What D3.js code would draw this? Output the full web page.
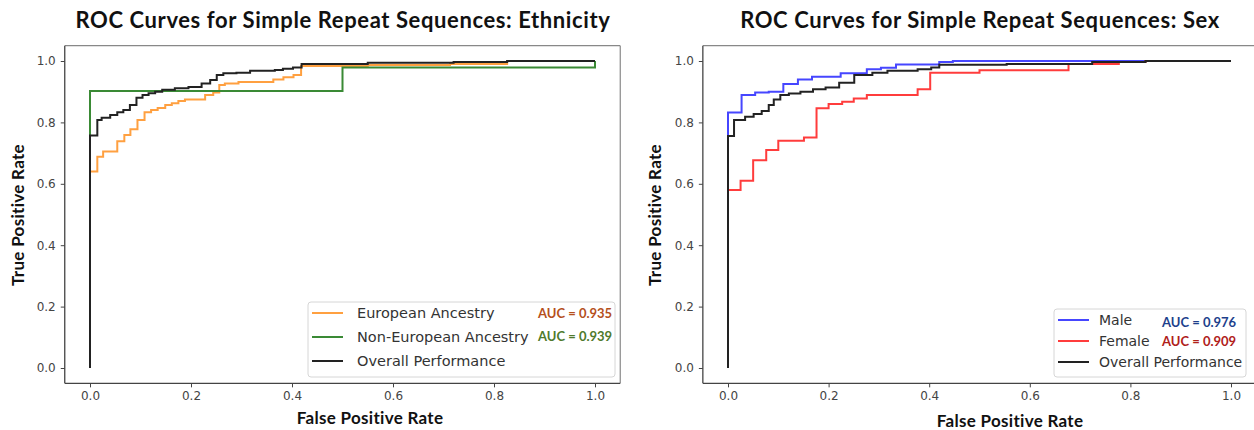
<!DOCTYPE html>
<html><head><meta charset="utf-8">
<script src="https://cdn.jsdelivr.net/npm/d3@7"></script>
<style>body{margin:0;background:#fff}svg{display:block}</style>
</head><body>
<svg id="c" width="1254" height="430"></svg>
<script>
const tickValues = [0, 0.2, 0.4, 0.6, 0.8, 1.0];
const tickLabels = ["0.0", "0.2", "0.4", "0.6", "0.8", "1.0"];

// Left panel: Ethnicity
const europeanAncestry = [[0,0],[0,0.64],[0.0145,0.688],[0.026,0.705],[0.054,0.739],[0.068,0.759],[0.08,0.778],[0.094,0.808],[0.108,0.833],[0.121,0.84],[0.134,0.847],[0.149,0.857],[0.162,0.862],[0.175,0.87],[0.188,0.875],[0.228,0.889],[0.244,0.897],[0.256,0.922],[0.267,0.927],[0.294,0.932],[0.363,0.94],[0.383,0.947],[0.403,0.954],[0.418,0.984],[0.55,0.987],[0.713,0.99],[0.826,1.0],[1,1]];
const nonEuropeanAncestry = [[0,0],[0,0.902],[0.5,0.979],[1,1]];
const overallEthnicity = [[0,0],[0,0.757],[0.0145,0.808],[0.023,0.815],[0.04,0.824],[0.054,0.833],[0.066,0.84],[0.079,0.857],[0.092,0.88],[0.104,0.889],[0.116,0.895],[0.129,0.9],[0.143,0.906],[0.168,0.911],[0.195,0.915],[0.221,0.927],[0.238,0.938],[0.251,0.954],[0.264,0.96],[0.29,0.962],[0.317,0.968],[0.366,0.971],[0.382,0.975],[0.402,0.979],[0.419,0.99],[0.55,0.994],[0.72,0.997],[0.826,1.0],[1,1]];

// Right panel: Sex
const male = [[0,0],[0,0.832],[0.027,0.889],[0.054,0.897],[0.081,0.9],[0.11,0.925],[0.139,0.94],[0.167,0.949],[0.224,0.96],[0.276,0.973],[0.304,0.978],[0.334,0.989],[0.42,0.997],[0.447,1],[1,1]];
const female = [[0,0],[0,0.58],[0.025,0.61],[0.05,0.677],[0.076,0.71],[0.1,0.74],[0.151,0.751],[0.176,0.846],[0.2,0.86],[0.227,0.867],[0.25,0.878],[0.276,0.889],[0.377,0.908],[0.402,0.962],[0.5,0.97],[0.677,0.99],[0.777,0.997],[0.83,1],[1,1]];
const overallSex = [[0,0],[0,0.756],[0.012,0.808],[0.034,0.818],[0.051,0.827],[0.067,0.837],[0.081,0.857],[0.091,0.875],[0.104,0.889],[0.121,0.894],[0.144,0.9],[0.169,0.908],[0.194,0.914],[0.221,0.929],[0.251,0.954],[0.287,0.962],[0.317,0.968],[0.377,0.973],[0.404,0.979],[0.42,0.988],[0.554,0.99],[0.724,0.997],[0.83,1],[1,1]];

const ethnicityLabels = ["European Ancestry", "Non-European Ancestry", "Overall Performance"];
const ethnicityAUC = ["AUC = 0.935", "AUC = 0.939", null];
const sexLabels = ["Male", "Female", "Overall Performance"];
const sexAUC = ["AUC = 0.976", "AUC = 0.909", null];

const svg = d3.select("#c");

function panel(cfg) {
  const x = d3.scaleLinear().domain([-0.05, 1.05]).range([cfg.x0, cfg.x1]);
  const y = d3.scaleLinear().domain([-0.05, 1.05]).range([383.35, 45.65]);
  const g = svg.append("g");
  const [L, R] = x.range(); const [B, T] = y.range();
  g.append("line").attr("x1", L).attr("x2", R).attr("y1", T).attr("y2", T).attr("stroke", "#888").attr("stroke-width", 1.2);
  g.append("line").attr("x1", R).attr("x2", R).attr("y1", T).attr("y2", B).attr("stroke", "#888").attr("stroke-width", 1.2);
  const xa = g.append("g").attr("transform", `translate(0,${B})`)
    .call(d3.axisBottom(x).tickValues(tickValues).tickFormat((d, i) => tickLabels[i]).tickSize(4).tickPadding(4));
  const ya = g.append("g").attr("transform", `translate(${L},0)`)
    .call(d3.axisLeft(y).tickValues(tickValues).tickFormat((d, i) => tickLabels[i]).tickSize(4).tickPadding(5));
  [xa, ya].forEach(a => {
    a.select(".domain").attr("stroke", "#444").attr("stroke-width", 1.3);
    a.selectAll(".tick line").attr("stroke", "#444");
    a.selectAll(".tick text").attr("fill", "#444").style("font-family", "DejaVu Sans").style("font-size", "12px");
  });
  xa.select(".domain").attr("d", `M${L},0H${R}`);
  ya.select(".domain").attr("d", `M0,${B}V${T}`);

  const line = d3.line().x(d => x(d[0])).y(d => y(d[1])).curve(d3.curveStepAfter);
  cfg.series.forEach(s => {
    g.append("path").datum(s.data).attr("d", line).attr("fill", "none")
      .attr("stroke", s.color).attr("stroke-width", 2).attr("stroke-linejoin", "miter");
  });

  g.append("text").attr("x", cfg.titleX).attr("y", 28).attr("text-anchor", "middle")
    .style("font-family", "Lato").style("font-weight", "bold").style("font-size", "22px").style("letter-spacing", "0.6px")
    .attr("fill", "#111").text(cfg.title);
  g.append("text").attr("x", cfg.xlabX).attr("y", cfg.xlabY).attr("text-anchor", "middle")
    .style("font-family", "Lato").style("font-weight", "bold").style("font-size", "17px").style("letter-spacing", "0.3px")
    .attr("fill", "#111").text("False Positive Rate");
  g.append("text").attr("transform", `translate(${cfg.ylabX},215) rotate(-90)`).attr("text-anchor", "middle")
    .style("font-family", "Lato").style("font-weight", "bold").style("font-size", "17px").style("letter-spacing", "0.3px")
    .attr("fill", "#111").text("True Positive Rate");

  const lg = cfg.legend;
  g.append("rect").attr("x", lg.x).attr("y", lg.y).attr("width", lg.w).attr("height", lg.h).attr("rx", 3)
    .attr("fill", "#fff").attr("fill-opacity", 0.85).attr("stroke", "#d6d6d6");
  cfg.series.forEach((s, i) => {
    const yy = lg.rowY[i];
    g.append("line").attr("x1", lg.x + 4).attr("x2", lg.x + 35).attr("y1", yy).attr("y2", yy).attr("stroke", s.color).attr("stroke-width", 2);
    g.append("text").attr("x", lg.x + lg.tx).attr("y", yy).attr("dy", "0.35em")
      .style("font-family", "DejaVu Sans").style("font-size", lg.fs).attr("fill", "#333").text(lg.labels[i]);
    if (lg.auc[i]) {
      g.append("text").attr("x", lg.aucX).attr("y", lg.aucY[i]).attr("dy", "0.35em")
        .style("font-family", "Lato").style("font-weight", "bold").style("font-size", "13px").attr("fill", lg.aucColors[i]).text(lg.auc[i]);
    }
  });
}

panel({
  x0: 64.75, x1: 620.25, title: "ROC Curves for Simple Repeat Sequences: Ethnicity", titleX: 343,
  xlabX: 370, xlabY: 424, ylabX: 24,
  series: [
    {data: europeanAncestry, color: "#ffa040"},
    {data: nonEuropeanAncestry, color: "#3a8a35"},
    {data: overallEthnicity, color: "#222"}
  ],
  legend: {x: 308, y: 302, w: 307, h: 75, rowY: [313, 337, 361], labels: ethnicityLabels, fs: "14.5px", tx: 49,
    auc: ethnicityAUC, aucX: 538, aucY: [313, 336], aucColors: ["#b5501c", "#4f7a2c"]}
});

panel({
  x0: 702.85, x1: 1256.15, title: "ROC Curves for Simple Repeat Sequences: Sex", titleX: 980,
  xlabX: 1010, xlabY: 427, ylabX: 661,
  series: [
    {data: male, color: "#4646ff"},
    {data: female, color: "#ff3c3c"},
    {data: overallSex, color: "#222"}
  ],
  legend: {x: 1054, y: 309, w: 192, h: 68, rowY: [320, 341, 362], labels: sexLabels, fs: "14px", tx: 45,
    auc: sexAUC, aucX: 1162, aucY: [322, 341], aucColors: ["#1e3f8c", "#b0201a"]}
});
</script>
</body></html>
